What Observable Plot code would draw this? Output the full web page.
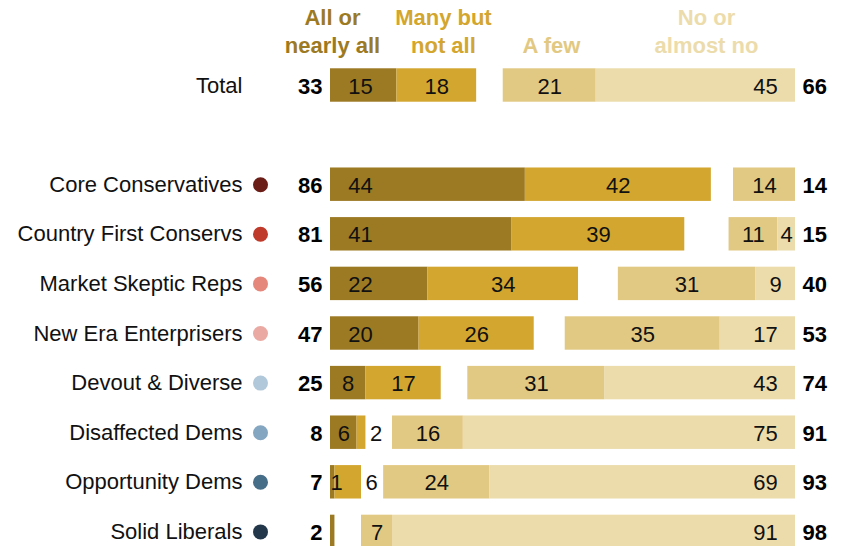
<!DOCTYPE html>
<html>
<head>
<meta charset="utf-8">
<script src="https://cdn.jsdelivr.net/npm/d3@7"></script>
<script src="https://cdn.jsdelivr.net/npm/@observablehq/plot@0.6"></script>
<style>
  html, body { margin: 0; padding: 0; background: #fff; overflow: hidden; }
  #chart svg { display: block; }
</style>
</head>
<body>
<div id="chart"></div>
<script>
// ---- data ----
const groups = ["Total", "Core Conservatives", "Country First Conservs", "Market Skeptic Reps",
  "New Era Enterprisers", "Devout & Diverse", "Disaffected Dems", "Opportunity Dems", "Solid Liberals"];
const groupColors = [null, "#6a1d17", "#c03a2b", "#e5887b", "#eaaaa3", "#b1c8da", "#85a6c0", "#476e88", "#22384a"];
const allOrNearlyAll = [15, 44, 41, 22, 20, 8, 6, 1, 1];
const manyButNotAll = [18, 42, 39, 34, 26, 17, 2, 6, 0];
const aFew = [21, 14, 11, 31, 35, 31, 16, 24, 7];
const noOrAlmostNo = [45, 0, 4, 9, 17, 43, 75, 69, 91];
const netMany = [33, 86, 81, 56, 47, 25, 8, 7, 2];
const netFew = [66, 14, 15, 40, 53, 74, 91, 93, 98];
const headers = ["All or\nnearly all", "Many but\nnot all", "A few", "No or\nalmost no"];

// ---- layout ----
const W = 841, H = 560, ML = 330, MR = 46, XMAX = 105;
const ppu = (W - ML - MR) / XMAX;
const colors = ["#9c7a24", "#d3a62f", "#e2c983", "#ecdcab"];
const SPACER = " ";
const yDomain = [groups[0], SPACER, ...groups.slice(1)];
const step = 49.6;
const firstCenter = 85;
const yRange = [firstCenter - step / 2, firstCenter - step / 2 + step * yDomain.length];

const segs = [];
groups.forEach((g, i) => {
  const a = allOrNearlyAll[i], m = manyButNotAll[i], f = aFew[i], n = noOrAlmostNo[i];
  const showLeft = netMany[i] > 2;
  if (a > 0) {
    const x1 = 0, x2 = a, mid = (x1 + x2) / 2;
    segs.push({g, k: 0, v: a, x1, x2, lx: Math.max(x1 + 6 / ppu, Math.min(mid, x1 + 30 / ppu)), out: false, show: showLeft});
  }
  if (m > 0) {
    const x1 = a, x2 = a + m;
    const out = m <= 6;
    segs.push({g, k: 1, v: m, x1, x2, lx: out ? x2 + 4 / ppu : (x1 + x2) / 2, out, show: showLeft});
  }
  if (f > 0) {
    const x1 = XMAX - (f + n), x2 = XMAX - n;
    segs.push({g, k: 2, v: f, x1, x2, lx: (x1 + x2) / 2, out: false, show: true});
  }
  if (n > 0) {
    const x1 = XMAX - n, x2 = XMAX, mid = (x1 + x2) / 2;
    segs.push({g, k: 3, v: n, x1, x2, lx: Math.max(mid, x2 - 30 / ppu), out: false, show: true});
  }
});

const rows = groups.map((g, i) => ({g, i, color: groupColors[i], netMany: netMany[i], netFew: netFew[i]}));
const headerData = headers.map((h, k) => ({h, k}));
const headerX = [0.45, 25.5, 49.9, 84.9];

const font = "'Liberation Sans', Arial, sans-serif";

const chart = Plot.plot({
  width: W,
  height: H,
  marginLeft: ML,
  marginRight: MR,
  marginTop: 0,
  marginBottom: 0,
  style: {fontFamily: font, fontSize: "22px", background: "#fff"},
  x: {domain: [0, XMAX], axis: null},
  y: {domain: yDomain, range: yRange, round: false, paddingInner: 0.326, paddingOuter: 0.163, axis: null},
  color: {type: "identity"},
  marks: [
    Plot.barX(segs, {x1: "x1", x2: "x2", y: "g", fill: d => colors[d.k]}),
    Plot.text(segs.filter(d => d.show && !d.out), {x: "lx", y: "g", dy: 1, text: d => String(d.v), fill: "#111", fontSize: 22, textAnchor: "middle"}),
    Plot.text(segs.filter(d => d.show && d.out), {x: "lx", y: "g", dy: 1, text: d => String(d.v), fill: "#111", fontSize: 22, textAnchor: "start"}),
    // left totals
    Plot.text(rows, {x: 0, y: "g", dy: 1, text: d => String(d.netMany), dx: -8, textAnchor: "end", fontWeight: "bold", fontSize: 22, fill: "#000"}),
    // right totals
    Plot.text(rows, {x: XMAX, y: "g", dy: 1, text: d => String(d.netFew), dx: 7, textAnchor: "start", fontWeight: "bold", fontSize: 22, fill: "#000"}),
    // group labels
    Plot.text(rows, {x: 0, y: "g", text: "g", dx: -88, textAnchor: "end", fontSize: 22, fill: "#111"}),
    // group dots
    Plot.dot(rows.filter(d => d.color), {x: 0, y: "g", dx: -70, r: 7.5, fill: "color", stroke: null}),
    // headers
    Plot.text(headerData, {x: d => headerX[d.k], frameAnchor: "top", dy: 52, lineAnchor: "bottom", lineHeight: 1.23,
      text: "h", fill: d => colors[d.k], fontWeight: "bold", fontSize: 22, textAnchor: "middle"})
  ]
});
document.getElementById("chart").appendChild(chart);
</script>
</body>
</html>
